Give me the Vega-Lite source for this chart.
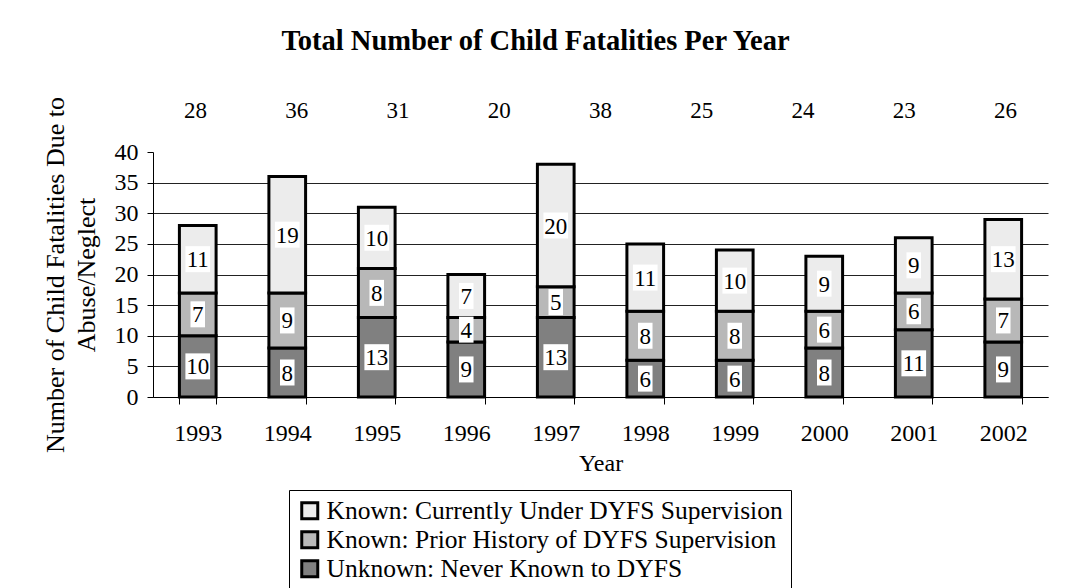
{
  "$schema": "https://vega.github.io/schema/vega-lite/v6.json",
  "width": 895,
  "height": 245,
  "autosize": {"type": "none"},
  "padding": {"left": 153, "top": 152, "right": 26, "bottom": 191},
  "background": "white",
  "title": {
    "text": "Total Number of Child Fatalities Per Year",
    "font": "Liberation Serif",
    "fontSize": 28.5,
    "fontWeight": "bold",
    "color": "black",
    "anchor": "middle",
    "frame": "group",
    "dx": -65,
    "offset": 41
  },
  "datasets": {
    "segments": [
      {"year": "1993", "series": "Unknown: Never Known to DYFS", "count": 10},
      {"year": "1993", "series": "Known: Prior History of DYFS Supervision", "count": 7},
      {"year": "1993", "series": "Known: Currently Under DYFS Supervision", "count": 11},
      {"year": "1994", "series": "Unknown: Never Known to DYFS", "count": 8},
      {"year": "1994", "series": "Known: Prior History of DYFS Supervision", "count": 9},
      {"year": "1994", "series": "Known: Currently Under DYFS Supervision", "count": 19},
      {"year": "1995", "series": "Unknown: Never Known to DYFS", "count": 13},
      {"year": "1995", "series": "Known: Prior History of DYFS Supervision", "count": 8},
      {"year": "1995", "series": "Known: Currently Under DYFS Supervision", "count": 10},
      {"year": "1996", "series": "Unknown: Never Known to DYFS", "count": 9},
      {"year": "1996", "series": "Known: Prior History of DYFS Supervision", "count": 4},
      {"year": "1996", "series": "Known: Currently Under DYFS Supervision", "count": 7},
      {"year": "1997", "series": "Unknown: Never Known to DYFS", "count": 13},
      {"year": "1997", "series": "Known: Prior History of DYFS Supervision", "count": 5},
      {"year": "1997", "series": "Known: Currently Under DYFS Supervision", "count": 20},
      {"year": "1998", "series": "Unknown: Never Known to DYFS", "count": 6},
      {"year": "1998", "series": "Known: Prior History of DYFS Supervision", "count": 8},
      {"year": "1998", "series": "Known: Currently Under DYFS Supervision", "count": 11},
      {"year": "1999", "series": "Unknown: Never Known to DYFS", "count": 6},
      {"year": "1999", "series": "Known: Prior History of DYFS Supervision", "count": 8},
      {"year": "1999", "series": "Known: Currently Under DYFS Supervision", "count": 10},
      {"year": "2000", "series": "Unknown: Never Known to DYFS", "count": 8},
      {"year": "2000", "series": "Known: Prior History of DYFS Supervision", "count": 6},
      {"year": "2000", "series": "Known: Currently Under DYFS Supervision", "count": 9},
      {"year": "2001", "series": "Unknown: Never Known to DYFS", "count": 11},
      {"year": "2001", "series": "Known: Prior History of DYFS Supervision", "count": 6},
      {"year": "2001", "series": "Known: Currently Under DYFS Supervision", "count": 9},
      {"year": "2002", "series": "Unknown: Never Known to DYFS", "count": 9},
      {"year": "2002", "series": "Known: Prior History of DYFS Supervision", "count": 7},
      {"year": "2002", "series": "Known: Currently Under DYFS Supervision", "count": 13}
    ],
    "totals": [
      {"year": "1993", "total": 28},
      {"year": "1994", "total": 36},
      {"year": "1995", "total": 31},
      {"year": "1996", "total": 20},
      {"year": "1997", "total": 38},
      {"year": "1998", "total": 25},
      {"year": "1999", "total": 24},
      {"year": "2000", "total": 23},
      {"year": "2001", "total": 26},
      {"year": "2002", "total": 29}
    ]
  },
  "layer": [
    {
      "data": {"name": "segments"},
      "encoding": {
        "x": {
          "field": "year", "type": "ordinal",
          "scale": {"paddingInner": 0.59, "paddingOuter": 0.295},
          "axis": {"title": "Year", "labelAngle": 0, "tickBand": "extent", "tickSize": 7, "labelPadding": 17, "titlePadding": 6, "titleFontSize": 24, "grid": false}
        },
        "order": {"field": "series", "sort": "descending"}
      },
      "layer": [
        {
          "mark": {"type": "bar", "stroke": "black", "strokeWidth": 3},
          "encoding": {
            "y": {
              "field": "count", "type": "quantitative", "stack": "zero",
              "scale": {"domain": [0, 40], "nice": false},
              "axis": {"title": ["Number of Child Fatalities Due to", "Abuse/Neglect"]}
            },
            "color": {
              "field": "series", "type": "nominal",
              "scale": {
                "domain": ["Known: Currently Under DYFS Supervision", "Known: Prior History of DYFS Supervision", "Unknown: Never Known to DYFS"],
                "range": ["#ececec", "#b8b8b8", "#808080"]
              },
              "legend": {
                "orient": "none", "legendX": 136, "legendY": 338, "title": null,
                "labelFontSize": 25.5, "labelFont": "Liberation Serif", "labelColor": "black",
                "symbolType": "square", "symbolSize": 256, "symbolStrokeColor": "black", "symbolStrokeWidth": 3,
                "strokeColor": "black", "fillColor": "white", "padding": 8, "rowPadding": 0, "labelOffset": 4, "labelLimit": 700
              }
            }
          }
        },
        {
          "mark": {"type": "point", "filled": true, "fill": "white", "opacity": 1, "strokeWidth": 0, "size": 676},
          "encoding": {
            "y": {"field": "count", "type": "quantitative", "stack": "zero", "bandPosition": 0.5},
            "detail": {"field": "series"},
            "shape": {"condition": {"test": "datum.count >= 10", "value": "M-0.95,-1H0.95V1H-0.95Z"}, "value": "M-0.56,-1H0.56V1H-0.56Z"}
          }
        },
        {
          "mark": {"type": "text", "fontSize": 23, "font": "Liberation Serif", "color": "black", "baseline": "middle", "dy": 1},
          "encoding": {
            "y": {"field": "count", "type": "quantitative", "stack": "zero", "bandPosition": 0.5},
            "detail": {"field": "series"},
            "text": {"field": "count", "type": "quantitative"}
          }
        }
      ]
    },
    {
      "data": {"name": "totals"},
      "transform": [{"filter": "datum.year !== '2002'"}],
      "mark": {"type": "text", "fontSize": 23, "font": "Liberation Serif", "color": "black", "baseline": "middle"},
      "encoding": {
        "x": {"field": "year", "type": "ordinal", "scale": {"type": "point", "padding": 0.42}, "axis": null},
        "y": {"datum": 46.7, "type": "quantitative"},
        "text": {"field": "total", "type": "quantitative"}
      }
    }
  ],
  "resolve": {"scale": {"x": "independent"}},
  "config": {
    "font": "Liberation Serif",
    "view": {"stroke": null},
    "axis": {
      "labelFont": "Liberation Serif", "labelFontSize": 24, "labelColor": "black",
      "titleFont": "Liberation Serif", "titleFontSize": 24, "titleFontWeight": "normal", "titleColor": "black",
      "domainColor": "black", "tickColor": "black", "gridColor": "#222222"
    },
    "axisY": {
      "values": [0, 5, 10, 15, 20, 25, 30, 35, 40],
      "labelOverlap": false,
      "titleFontSize": 26,
      "titlePadding": 15,
      "titleLineHeight": 31,
      "tickSize": 6,
      "labelPadding": 9,
      "grid": true,
      "gridOpacity": {"condition": {"test": "datum.value === 40", "value": 0}, "value": 1}
    }
  }
}
